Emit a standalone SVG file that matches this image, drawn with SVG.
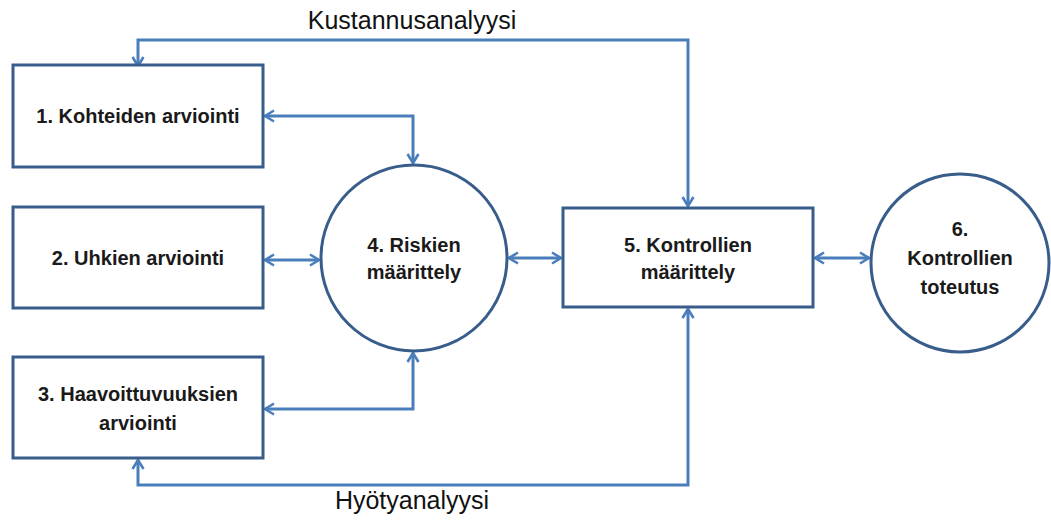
<svg xmlns="http://www.w3.org/2000/svg" width="1051" height="522" viewBox="0 0 1051 522">
  <style>
    .box { fill: #ffffff; stroke: #385d8a; stroke-width: 3; }
    .lbl { font-family: "Liberation Sans", Arial, sans-serif; font-weight: bold; font-size: 20px; fill: #1a1a1a; text-anchor: middle; }
    .cap { font-family: "Liberation Sans", Arial, sans-serif; font-size: 25px; fill: #111111; text-anchor: middle; }
    .conn { fill: none; stroke: #4a7ebb; stroke-width: 3; stroke-linejoin: miter; marker-start: url(#ah); marker-end: url(#ah); }
  </style>
  <defs>
    <marker id="ah" viewBox="0 0 14 14" refX="12" refY="7" markerWidth="14" markerHeight="14" markerUnits="userSpaceOnUse" orient="auto-start-reverse">
      <path d="M3,1.5 L12,7 L3,12.5" fill="none" stroke="#4a7ebb" stroke-width="2.6"/>
    </marker>
  </defs>
  <rect width="1051" height="522" fill="#ffffff"/>

  <g id="connectors">
    <path class="conn" d="M138,66 V40 H688 V206"/>
    <path class="conn" d="M265,116 H413 V163"/>
    <path class="conn" d="M265,260 H319"/>
    <path class="conn" d="M265,409 H413 V353"/>
    <path class="conn" d="M509,258 H561"/>
    <path class="conn" d="M815,258 H869"/>
    <path class="conn" d="M138,460 V485 H688 V309"/>
  </g>

  <g id="node1">
    <rect class="box" x="13" y="65" width="250" height="102"/>
    <text class="lbl" x="138" y="123">1. Kohteiden arviointi</text>
  </g>
  <g id="node2">
    <rect class="box" x="13" y="207" width="250" height="101"/>
    <text class="lbl" x="138" y="265">2. Uhkien arviointi</text>
  </g>
  <g id="node3">
    <rect class="box" x="13" y="357" width="250" height="101"/>
    <text class="lbl" x="138" y="401">3. Haavoittuvuuksien</text>
    <text class="lbl" x="138" y="430">arviointi</text>
  </g>
  <g id="node4">
    <circle class="box" cx="414" cy="258" r="93"/>
    <text class="lbl" x="414" y="252">4. Riskien</text>
    <text class="lbl" x="414" y="279">määrittely</text>
  </g>
  <g id="node5">
    <rect class="box" x="563" y="208" width="250" height="99"/>
    <text class="lbl" x="688" y="252">5. Kontrollien</text>
    <text class="lbl" x="688" y="279">määrittely</text>
  </g>
  <g id="node6">
    <circle class="box" cx="960" cy="263" r="89"/>
    <text class="lbl" x="960" y="236">6.</text>
    <text class="lbl" x="960" y="265">Kontrollien</text>
    <text class="lbl" x="960" y="294">toteutus</text>
  </g>

  <g id="labels">
    <text class="cap" x="412" y="29">Kustannusanalyysi</text>
    <text class="cap" x="412" y="509">Hyötyanalyysi</text>
  </g>
</svg>
